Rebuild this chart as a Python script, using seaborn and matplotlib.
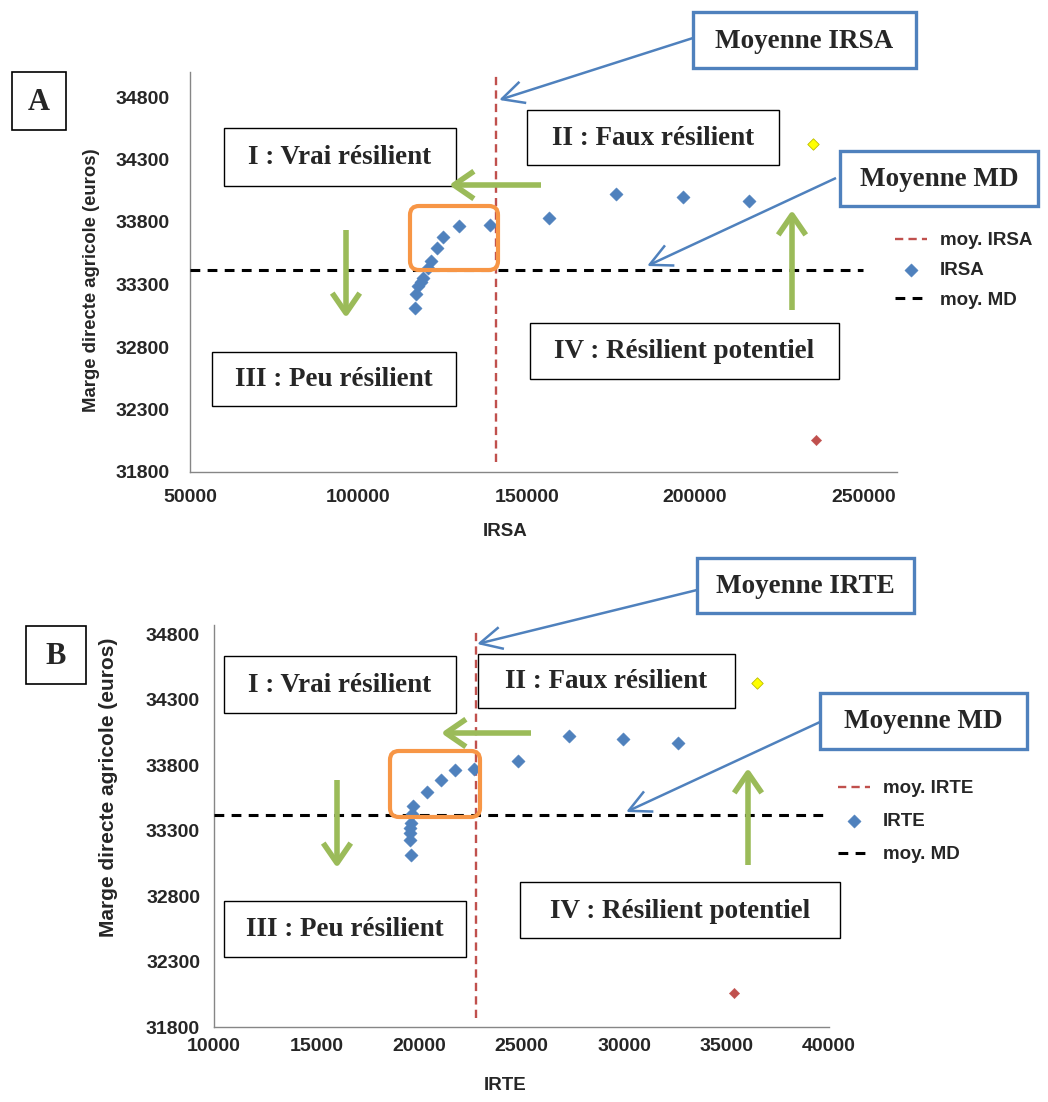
import matplotlib
matplotlib.use("Agg")
import matplotlib.pyplot as plt
import seaborn as sns
import pandas as pd
from matplotlib.patches import Rectangle, FancyBboxPatch

# Marge directe agricole (euros) of the scenario series
md_serie = [33110, 33228, 33285, 33320, 33355, 33430, 33485, 33593, 33684,
            33766, 33773, 33830, 34025, 34003, 33967]
# Resilience indicators for the same scenarios
irsa_serie = [116780, 117070, 117840, 118550, 119230, 120710, 121690, 123290,
              125240, 129880, 139140, 156720, 176540, 196450, 215980]
irte_serie = [19590, 19560, 19560, 19560, 19590, 19640, 19690, 20380, 21060,
              21760, 22700, 24810, 27320, 29970, 32620]

# Two highlighted scenarios (highest / lowest margin)
md_high, md_low = 34427, 32060
irsa_high, irsa_low = 234910, 235800
irte_high, irte_low = 36490, 35370

# Averages
moy_irsa = 141000
moy_irte = 22780
moy_md = 33418

irsa_ticks = [50000, 100000, 150000, 200000, 250000]
irte_ticks = [10000, 15000, 20000, 25000, 30000, 35000, 40000]
md_ticks = [31800, 32300, 32800, 33300, 33800, 34300, 34800]

sns.set_style("white")
plt.rcParams["font.family"] = ["Liberation Sans", "DejaVu Sans"]

W, H = 1048, 1102
fig = plt.figure(figsize=(W / 100, H / 100), dpi=100)

BLUE = "#4F81BD"
RED = "#C0504D"
GREEN = "#9BBB59"
ORANGE = "#F79646"
GREY = "#868686"


def px_axes(x0, y0, x1, y1):
    return fig.add_axes([x0 / W, 1 - y1 / H, (x1 - x0) / W, (y1 - y0) / H])


def draw_panel(ax, xvals, xname, xmean, xhigh, xlow, xlim, ylim, xticks,
               md_span, vline_span, xpad, ypad, ylabel_size):
    df = pd.DataFrame({xname: xvals, "MD": md_serie})
    ax.plot([xmean, xmean], vline_span, color=RED, lw=1.7,
            dashes=(3.5, 2.2), label=f"moy. {xname}", zorder=2)
    sns.scatterplot(data=df, x=xname, y="MD", marker="D", s=46, color=BLUE,
                    edgecolor=BLUE, linewidth=0.3, ax=ax, label=xname, zorder=4)
    ax.scatter([xhigh], [md_high], marker="D", s=34, color="#FFFF00",
               edgecolor="#BDBD00", linewidth=0.6, zorder=4)
    ax.scatter([xlow], [md_low], marker="D", s=28, color=RED,
               edgecolor=RED, linewidth=0.3, zorder=4)
    ax.plot(md_span, [moy_md, moy_md], color="black", lw=2.2,
            dashes=(3.2, 2.4), label="moy. MD", zorder=3)

    ax.set_xlim(*xlim)
    ax.set_ylim(*ylim)
    ax.set_xticks(xticks)
    ax.set_yticks(md_ticks)
    ax.set_xticklabels([str(t) for t in xticks])
    ax.set_yticklabels([str(t) for t in md_ticks])
    for side in ("top", "right"):
        ax.spines[side].set_visible(False)
    for side in ("left", "bottom"):
        ax.spines[side].set_color(GREY)
        ax.spines[side].set_linewidth(1.0)
    ax.tick_params(axis="both", direction="out", length=4, width=1,
                   color=GREY, labelsize=14)
    ax.tick_params(axis="x", pad=xpad)
    ax.tick_params(axis="y", pad=ypad)
    for lab in ax.get_xticklabels() + ax.get_yticklabels():
        lab.set_fontweight("bold")
    ax.set_xlabel(xname, fontsize=13.5, fontweight="bold")
    ax.set_ylabel("Marge directe agricole (euros)", fontsize=ylabel_size,
                  fontweight="bold")
    ax.set_facecolor("none")


def place_legend(ax, xname, anchor_px, spacing):
    handles, labels = ax.get_legend_handles_labels()
    order = [f"moy. {xname}", xname, "moy. MD"]
    hmap = dict(zip(labels, handles))
    leg = ax.legend([hmap[k] for k in order], order, loc="upper left",
                    bbox_to_anchor=(anchor_px[0] / W, 1 - anchor_px[1] / H),
                    bbox_transform=fig.transFigure, frameon=False,
                    prop={"weight": "bold", "size": 13.5}, handlelength=1.7,
                    handletextpad=0.7, labelspacing=spacing, borderpad=0,
                    borderaxespad=0)
    return leg


# Panel A
axA = px_axes(190, 72, 897, 472)
draw_panel(axA, irsa_serie, "IRSA", moy_irsa, irsa_high, irsa_low,
           (50000, 260000), (31800, 35000), irsa_ticks,
           (50000, 250000), (31880, 35000), xpad=8, ypad=10.5,
           ylabel_size=13.3)
axA.xaxis.set_label_coords(0.4455, -0.128)
axA.yaxis.set_label_coords(-0.128, 0.48)
place_legend(axA, "IRSA", (895, 232), 0.68)

# Panel B
axB = px_axes(214, 625, 829, 1027)
draw_panel(axB, irte_serie, "IRTE", moy_irte, irte_high, irte_low,
           (10000, 40000), (31800, 34870), irte_ticks,
           (10000, 40000), (31870, 34850), xpad=4, ypad=6,
           ylabel_size=15)
axB.xaxis.set_label_coords(0.473, -0.125)
axB.yaxis.set_label_coords(-0.156, 0.595)
place_legend(axB, "IRTE", (838, 780), 0.85)

# Annotation layer in pixel coordinates
ov = fig.add_axes([0, 0, 1, 1], zorder=10)
ov.set_xlim(0, W)
ov.set_ylim(H, 0)
ov.axis("off")
ov.patch.set_alpha(0)


def box(x0, y0, x1, y1, text, edge="black", lw=1.0, size=19.5):
    ov.add_patch(Rectangle((x0, y0), x1 - x0, y1 - y0, facecolor="white",
                           edgecolor=edge, lw=lw, zorder=5))
    ov.text((x0 + x1) / 2, (y0 + y1) / 2 + 1, text, ha="center",
            va="center", family=["Liberation Serif", "DejaVu Serif"],
            weight="bold", size=size, zorder=6)


def arrow(tail, tip, color, lw, hl, hw, ms):
    ov.annotate("", xy=tip, xytext=tail, zorder=7,
                arrowprops=dict(arrowstyle=f"->,head_length={hl},head_width={hw}",
                                color=color, lw=lw, shrinkA=0, shrinkB=0,
                                mutation_scale=ms, capstyle="butt"))


def orange_frame(x0, y0, x1, y1):
    ov.add_patch(FancyBboxPatch((x0, y0), x1 - x0, y1 - y0,
                                boxstyle="round,pad=0,rounding_size=9",
                                facecolor="none", edgecolor=ORANGE, lw=3,
                                zorder=6))


# Panel A annotations
box(12, 72, 66, 130, "A", lw=1.2, size=22)
box(693, 12, 916, 68, "Moyenne IRSA", edge=BLUE, lw=2.4)
box(224, 128, 456, 186, "I : Vrai résilient")
box(527, 110, 779, 165, "II : Faux résilient")
box(840, 151, 1038, 206, "Moyenne MD", edge=BLUE, lw=2.4)
box(212, 352, 456, 406, "III : Peu résilient")
box(530, 323, 839, 379, "IV : Résilient potentiel")
orange_frame(410, 206, 498, 270)
arrow((693, 38), (499, 100), BLUE, 1.8, 1.0, 0.5, 16)
arrow((836, 178), (647, 266), BLUE, 1.8, 1.0, 0.5, 16)
arrow((541, 185), (449, 185), GREEN, 4, 0.8, 0.55, 18)
arrow((346, 230), (346, 318), GREEN, 4, 0.8, 0.55, 18)
arrow((792, 310), (792, 210), GREEN, 4, 0.8, 0.55, 18)

# Panel B annotations
box(26, 626, 86, 684, "B", lw=1.2, size=22)
box(697, 558, 914, 613, "Moyenne IRTE", edge=BLUE, lw=2.4)
box(224, 656, 456, 713, "I : Vrai résilient")
box(478, 654, 735, 708, "II : Faux résilient")
box(820, 693, 1027, 749, "Moyenne MD", edge=BLUE, lw=2.4)
box(224, 901, 466, 957, "III : Peu résilient")
box(520, 882, 840, 938, "IV : Résilient potentiel")
orange_frame(390, 751, 480, 817)
arrow((697, 590), (477, 644), BLUE, 1.8, 1.0, 0.5, 16)
arrow((820, 722), (626, 812), BLUE, 1.8, 1.0, 0.5, 16)
arrow((531, 733), (441, 733), GREEN, 4, 0.8, 0.55, 18)
arrow((337, 780), (337, 868), GREEN, 4, 0.8, 0.55, 18)
arrow((748, 865), (748, 768), GREEN, 4, 0.8, 0.55, 18)

fig.savefig("out.png", dpi=100)
